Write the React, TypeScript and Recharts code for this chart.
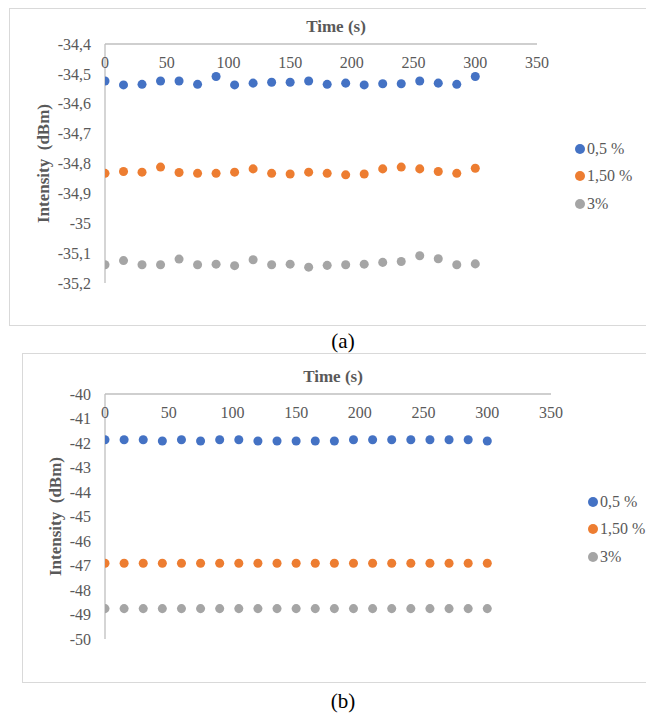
import React from 'react';
import { ScatterChart, Scatter, XAxis, YAxis, ZAxis, Legend, Label } from 'recharts';

const FONT = "'Liberation Serif', 'Times New Roman', serif";
const TEXT_GRAY = '#595959';
const AXIS_GRAY = '#BFBFBF';
const BORDER_GRAY = '#D9D9D9';

const seriesNames = ['0,5 %', '1,50 %', '3%'];
const seriesColors = ['#4472C4', '#ED7D31', '#A5A5A5'];

const times = [0, 15, 30, 45, 60, 75, 90, 105, 120, 135, 150, 165, 180, 195, 210, 225, 240, 255, 270, 285, 300];
const xTicks = [0, 50, 100, 150, 200, 250, 300, 350];

// (a)
const topLow = [-34.524, -34.537, -34.535, -34.524, -34.524, -34.535, -34.509, -34.537, -34.531, -34.528, -34.528, -34.524, -34.535, -34.531, -34.537, -34.533, -34.533, -34.524, -34.531, -34.535, -34.509];
const topMid = [-34.833, -34.827, -34.829, -34.812, -34.83, -34.833, -34.833, -34.829, -34.818, -34.833, -34.835, -34.829, -34.833, -34.838, -34.835, -34.818, -34.812, -34.818, -34.827, -34.833, -34.816];
const topHigh = [-35.139, -35.125, -35.139, -35.139, -35.12, -35.139, -35.137, -35.142, -35.122, -35.139, -35.137, -35.147, -35.141, -35.139, -35.137, -35.131, -35.128, -35.109, -35.119, -35.139, -35.136];
const topYTicks = [-34.4, -34.5, -34.6, -34.7, -34.8, -34.9, -35, -35.1, -35.2];

// (b)
const bottomLow = [-41.87, -41.87, -41.87, -41.92, -41.87, -41.92, -41.87, -41.87, -41.92, -41.92, -41.92, -41.92, -41.92, -41.87, -41.87, -41.87, -41.87, -41.87, -41.87, -41.87, -41.92];
const bottomMid = [-46.91, -46.91, -46.91, -46.91, -46.91, -46.91, -46.91, -46.91, -46.91, -46.91, -46.91, -46.91, -46.91, -46.91, -46.91, -46.91, -46.91, -46.91, -46.91, -46.91, -46.91];
const bottomHigh = [-48.76, -48.76, -48.76, -48.76, -48.76, -48.76, -48.76, -48.76, -48.76, -48.76, -48.76, -48.76, -48.76, -48.76, -48.76, -48.76, -48.76, -48.76, -48.76, -48.76, -48.76];
const bottomYTicks = [-40, -41, -42, -43, -44, -45, -46, -47, -48, -49, -50];

const toPoints = (vals: number[]) => times.map((t, i) => ({ t, v: vals[i] }));

const fmt = (v: number) => String(v).replace('.', ',');

const TopTick = (props: any) => {
  const { x, y, payload } = props;
  return (
    <text x={x} y={y + 24} textAnchor="middle" fill={TEXT_GRAY} fontSize={16} fontFamily={FONT}>
      {payload.value}
    </text>
  );
};

const renderLegend = (props: any) => {
  const { payload } = props;
  return (
    <div style={{ fontFamily: FONT, fontSize: 16, color: TEXT_GRAY }}>
      {(payload || []).map((entry: any) => (
        <div key={entry.value} style={{ display: 'flex', alignItems: 'center', height: 27.5 }}>
          <span
            style={{
              display: 'inline-block',
              width: 10,
              height: 10,
              borderRadius: '50%',
              background: entry.color,
              marginRight: 2,
            }}
          />
          <span>{entry.value}</span>
        </div>
      ))}
    </div>
  );
};

interface PanelProps {
  top: number;
  height: number;
  yAxisWidth: number;
  margin: { top: number; right: number; bottom: number; left: number };
  yDomain: [number, number];
  yTicks: number[];
  series: number[][];
  titleShift: number;
  legendPos: { left: number; top: number };
  border: { left: number; top: number; bottom: number };
}

const Panel: React.FC<PanelProps> = ({ top, height, yAxisWidth, margin, yDomain, yTicks, series, titleShift, legendPos, border }) => (
  <div style={{ position: 'absolute', left: 0, top, width: 646, height }}>
    <div
      style={{
        position: 'absolute',
        left: border.left,
        top: border.top,
        width: 660 - border.left,
        height: border.bottom - border.top,
        border: `1.5px solid ${BORDER_GRAY}`,
        boxSizing: 'border-box',
      }}
    />
    <ScatterChart width={646} height={height} margin={margin} style={{ fontFamily: FONT }}>
      <XAxis
        type="number"
        dataKey="t"
        orientation="top"
        height={20}
        domain={[0, 350]}
        ticks={xTicks}
        tickLine={false}
        tickSize={0}
        tickMargin={0}
        axisLine={{ stroke: AXIS_GRAY, strokeWidth: 1.3 }}
        tick={<TopTick />}
        allowDataOverflow
      >
        <Label
          content={(p: any) => {
            const vb = p.viewBox || {};
            return (
              <text
                x={vb.x + vb.width / 2 + titleShift}
                y={vb.y + vb.height - 12}
                textAnchor="middle"
                fill={TEXT_GRAY}
                fontSize={17}
                fontWeight="bold"
                fontFamily={FONT}
              >
                Time (s)
              </text>
            );
          }}
        />
      </XAxis>
      <YAxis
        type="number"
        dataKey="v"
        width={yAxisWidth}
        domain={yDomain}
        ticks={yTicks}
        interval={0}
        tickLine={false}
        tickSize={0}
        tickMargin={14}
        axisLine={{ stroke: AXIS_GRAY, strokeWidth: 1.3 }}
        tick={{ fill: TEXT_GRAY, fontSize: 16, fontFamily: FONT }}
        tickFormatter={fmt}
        allowDataOverflow
      >
        <Label
          content={(p: any) => {
            const vb = p.viewBox || {};
            const cx = vb.x;
            const cy = vb.y + vb.height / 2;
            return (
              <text
                x={cx}
                y={cy}
                transform={`rotate(-90, ${cx}, ${cy})`}
                textAnchor="middle"
                dominantBaseline="central"
                fill={TEXT_GRAY}
                fontSize={17}
                fontWeight="bold"
                fontFamily={FONT}
                style={{ whiteSpace: 'pre' }}
              >
                Intensity  (dBm)
              </text>
            );
          }}
        />
      </YAxis>
      <ZAxis range={[72, 72]} />
      <Legend
        layout="vertical"
        align="center"
        verticalAlign="middle"
        wrapperStyle={{ left: legendPos.left, top: legendPos.top, width: 80 }}
        content={renderLegend}
      />
      {series.map((vals, i) => (
        <Scatter
          key={seriesNames[i]}
          name={seriesNames[i]}
          data={toPoints(vals)}
          fill={seriesColors[i]}
          isAnimationActive={false}
        />
      ))}
    </ScatterChart>
  </div>
);

export default function App() {
  return (
    <div style={{ position: 'absolute', left: 0, top: 0, width: 646, height: 713, fontFamily: FONT, background: '#fff' }}>
      <Panel
        top={0}
        height={330}
        yAxisWidth={62}
        margin={{ top: 24, right: 109, bottom: 47, left: 43 }}
        yDomain={[-35.2, -34.4]}
        yTicks={topYTicks}
        series={[topLow, topMid, topHigh]}
        titleShift={15}
        legendPos={{ left: 575, top: 135 }}
        border={{ left: 9, top: 8, bottom: 326 }}
      />
      <div style={{ position: 'absolute', left: 0, width: 686, top: 331, textAlign: 'center', fontSize: 21, lineHeight: '20px', color: '#000' }}>
        (a)
      </div>
      <Panel
        top={350}
        height={345}
        yAxisWidth={50}
        margin={{ top: 24, right: 95, bottom: 56, left: 55 }}
        yDomain={[-50, -40]}
        yTicks={bottomYTicks}
        series={[bottomLow, bottomMid, bottomHigh]}
        titleShift={5}
        legendPos={{ left: 588, top: 138 }}
        border={{ left: 22, top: 3, bottom: 333 }}
      />
      <div style={{ position: 'absolute', left: 0, width: 686, top: 691, textAlign: 'center', fontSize: 21, lineHeight: '20px', color: '#000' }}>
        (b)
      </div>
    </div>
  );
}
